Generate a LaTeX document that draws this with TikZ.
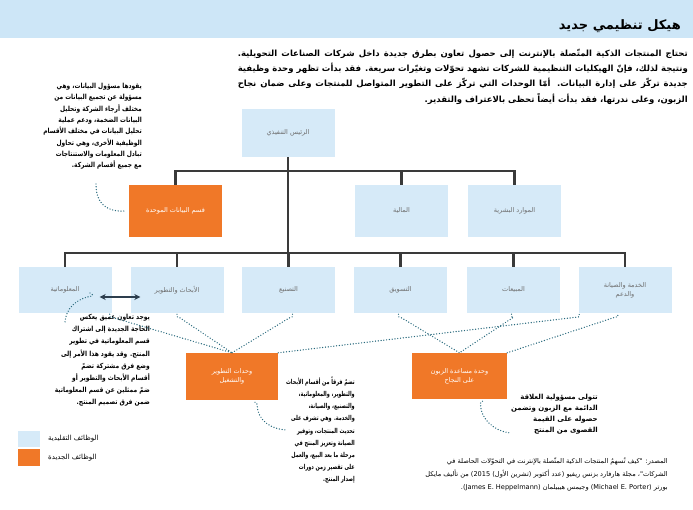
\documentclass[tikz,border=0pt]{standalone}
\usepackage{fontspec}
\usepackage{graphicx}
\TeXXeTstate=1
\newfontfamily\ar[Script=Arabic]{DejaVu Sans}
\usetikzlibrary{arrows.meta}
\definecolor{boxblue}{RGB}{214,234,248}
\definecolor{orangeN}{RGB}{240,120,40}
\definecolor{lineD}{RGB}{58,58,58}
\definecolor{dotT}{RGB}{40,105,125}
\definecolor{labG}{RGB}{110,110,110}
\definecolor{bandB}{RGB}{205,230,247}
\definecolor{arrD}{RGB}{45,62,78}
\newcommand\RL[1]{\beginR #1\endR}
\newcommand\sx{1}
\newcommand\SL[1]{\scalebox{\sx}[1]{\beginR #1\endR}}
\newcommand\JL[1]{\makebox[450pt][s]{\beginR #1\endR}}
\begin{document}
\begin{tikzpicture}[x=1pt,y=-1pt,
 trad/.style={fill=boxblue, minimum width=93pt, minimum height=46pt, inner sep=1pt, text=labG, align=center, font=\ar\fontsize{6.5}{9}\selectfont},
 newf/.style={trad, fill=orangeN, text=white},
 bus/.style={draw=lineD, line width=2.2pt},
 dots/.style={draw=dotT, line width=1.4pt, dash pattern=on 0pt off 2.8pt, line cap=round},
 body/.style={inner sep=0pt, align=right, font=\ar\bfseries\fontsize{7}{10.5}\selectfont}
]
\useasboundingbox (0,0) rectangle (693,509);
\fill[bandB] (0,0) rectangle (693,38);
\node[anchor=base east, inner sep=0pt, font=\ar\bfseries\fontsize{13}{15}\selectfont] (title) at (681,29) {\RL{هيكل تنظيمي جديد}};
\node[body, anchor=north east, font=\ar\bfseries\fontsize{8.5}{15.3}\selectfont] (intro) at (688,49) {%
\JL{تحتاج المنتجات الذكية المتّصلة بالإنترنت إلى حصول تعاون بطرق جديدة داخل شركات الصناعات التحويلية.}\\
\JL{ونتيجة لذلك، فإنّ الهيكليات التنظيمية للشركات تشهد تحوّلات وتغيّرات سريعة. فقد بدأت تظهر وحدة وظيفية}\\
\JL{جديدة تركّز على إدارة البيانات. أمّا الوحدات التي تركّز على التطوير المتواصل للمنتجات وعلى ضمان نجاح}\\
\RL{الزبون، وعلى ندرتها، فقد بدأت أيضاً تحظى بالاعتراف والتقدير.}};

% chart boxes
\node[trad, minimum height=48pt] (ceo) at (288,133) {\RL{الرئيس التنفيذي}};
\node[newf, minimum height=52pt] (data) at (175.5,211) {\RL{قسم البيانات الموحدة}};
\node[trad, minimum height=52pt] (fin) at (401.5,211) {\RL{المالية}};
\node[trad, minimum height=52pt] (hr) at (514.5,211) {\RL{الموارد البشرية}};
\node[trad] (it) at (65,290) {\RL{المعلوماتية}};
\node[trad] (rd) at (177,290) {\RL{الأبحاث والتطوير}};
\node[trad] (mfg) at (288.5,290) {\RL{التصنيع}};
\node[trad] (mkt) at (400.5,290) {\RL{التسويق}};
\node[trad] (sales) at (513.5,290) {\RL{المبيعات}};
\node[trad] (svc) at (625,290) {\RL{الخدمة والصيانة}\\\RL{والدعم}};
\node[newf, minimum width=92pt, minimum height=47pt] (dev) at (232,376.5) {\RL{وحدات التطوير}\\\RL{والتشغيل}};
\node[newf, minimum width=95pt] (cs) at (459.5,376) {\RL{وحدة مساعدة الزبون}\\\RL{على النجاح}};

% hierarchy lines
\coordinate (busT) at (288,171);
\coordinate (busB) at (288,253);
\draw[bus] (ceo.south) -- (busB);
\draw[bus] (data.north) |- (busT) -| (hr.north);
\draw[bus] (fin.north) -- (fin.north |- busT);
\draw[bus] (it.north) |- (busB) -| (svc.north);
\foreach \n in {rd,mfg,mkt,sales} \draw[bus] (\n.north) -- (\n.north |- busB);

% double arrow
\draw[arrD, line width=2pt, {Stealth[length=6pt,width=6pt]}-{Stealth[length=6pt,width=6pt]}] ([shift={(-12,7)}]it.east) -- ([shift={(10,7)}]rd.west);

% text blocks
\node[body, anchor=north east, font=\ar\bfseries\fontsize{7}{11.3}\selectfont\def\sx{0.84}] (ltext) at (142,83) {%
\SL{يقودها مسؤول البيانات، وهي}\\
\SL{مسؤولة عن تجميع البيانات من}\\
\SL{مختلف أرجاء الشركة وتحليل}\\
\SL{البيانات الضخمة، ودعم عملية}\\
\SL{تحليل البيانات في مختلف الأقسام}\\
\SL{الوظيفية الأخرى، وهي تحاول}\\
\SL{تبادل المعلومات والاستنتاجات}\\
\SL{مع جميع أقسام الشركة.}};
\node[body, anchor=north east, font=\ar\bfseries\fontsize{7}{12.2}\selectfont\def\sx{0.85}] (lbtext) at (150,314) {%
\SL{يوجد تعاون عميق يعكس}\\
\SL{الحاجة الجديدة إلى اشتراك}\\
\SL{قسم المعلوماتية في تطوير}\\
\SL{المنتج. وقد يقود هذا الأمر إلى}\\
\SL{وضع فرق مشتركة تضمّ}\\
\SL{أقسام الأبحاث والتطوير أو}\\
\SL{ضمّ ممثلين عن قسم المعلوماتية}\\
\SL{ضمن فرق تصميم المنتج.}};
\node[body, anchor=north east, font=\ar\bfseries\fontsize{6.8}{12.2}\selectfont\def\sx{0.72}] (mtext) at (355,377) {%
\SL{تضمّ فرقاً من أقسام الأبحاث}\\
\SL{والتطوير، والمعلوماتية،}\\
\SL{والتصنيع، والصيانة،}\\
\SL{والخدمة. وهي تشرف على}\\
\SL{تحديث المنتجات، وتوفير}\\
\SL{الصيانة وتعزيز المنتج في}\\
\SL{مرحلة ما بعد البيع، والعمل}\\
\SL{على تقصير زمن دورات}\\
\SL{إصدار المنتج.}};
\node[body, anchor=north east, font=\ar\bfseries\fontsize{7}{11}\selectfont] (rtext) at (598,394) {%
\RL{تتولى مسؤولية العلاقة}\\
\RL{الدائمة مع الزبون وتضمن}\\
\RL{حصوله على القيمة}\\
\RL{القصوى من المنتج}};
\node[inner sep=0pt, align=right, anchor=north east, font=\ar\fontsize{6.6}{13}\selectfont] (src) at (668,458) {%
\RL{المصدر: "كيف تُسهمُ المنتجات الذكية المتّصلة بالإنترنت في التحوّلات الحاصلة في}\\
\RL{الشركات"، مجلة هارفارد بزنس ريفيو (عدد أكتوبر (تشرين الأول) \beginL 2015\endL) من تأليف مايكل}\\
\RL{بورتر \beginL(Michael E. Porter)\endL\ وجيمس هيبيلمان \beginL(James E. Heppelmann)\endL.}};

% legend
\fill[boxblue] (18,431) rectangle (40,447);
\fill[orangeN] (18,449) rectangle (40,466);
\node[anchor=west, inner sep=0pt, font=\ar\fontsize{7}{8}\selectfont] (legTl) at (48,439) {\RL{الوظائف التقليدية}};
\node[anchor=west, inner sep=0pt, font=\ar\fontsize{7}{8}\selectfont] (legNl) at (48,457.5) {\RL{الوظائف الجديدة}};

% dotted connectors
\coordinate (pIt) at ([shift={(0,4)}]it.south east);
\coordinate (pRd) at ([shift={(2,4)}]rd.south);
\coordinate (pMfg) at ([shift={(2,4)}]mfg.south);
\coordinate (pMkt) at ([shift={(0,4)}]mkt.south);
\coordinate (pSales) at ([shift={(0,4)}]sales.south);
\coordinate (pSvcA) at ([shift={(-2,4)}]svc.south west);
\coordinate (pSvcB) at ([shift={(-10,4)}]svc.south);
\draw[dots] ([shift={(-2,-3)}]pIt) .. controls ([shift={(-2,0)}]pIt) .. (pIt) -- (dev.north);
\draw[dots] ([shift={(-2,-3)}]pRd) .. controls ([shift={(-2,0)}]pRd) .. (pRd) -- (dev.north);
\draw[dots] ([shift={(2,-3)}]pMfg) .. controls ([shift={(2,0)}]pMfg) .. (pMfg) -- (dev.north);
\draw[dots] (dev.north east) -- (pSvcA) .. controls ([shift={(3,0)}]pSvcA) .. ([shift={(3,-3)}]pSvcA);
\draw[dots] ([shift={(-2,-3)}]pMkt) .. controls ([shift={(-2,0)}]pMkt) .. (pMkt) -- (cs.north);
\draw[dots] ([shift={(-2,-3)}]pSales) .. controls ([shift={(-2,0)}]pSales) .. (pSales) -- (cs.north);
\draw[dots] (cs.north east) -- (pSvcB) .. controls ([shift={(3,0)}]pSvcB) .. ([shift={(3,-3)}]pSvcB);
\coordinate (cA) at (96,184);
\draw[dots] (cA) .. controls (96,205) and (108,212) .. ([xshift=-4pt]data.west);
\coordinate (cB) at (92,296);
\coordinate (cBe) at (65,322);
\draw[dots] ([shift={(-2,-3)}]cB) .. controls ([shift={(1,-1)}]cB) .. (cB) .. controls (75,299) and (66,309) .. (cBe);
\coordinate (cC) at ([shift={(25,5)}]dev.south);
\coordinate (cCe) at (287,430);
\draw[dots] ([shift={(-2,-3)}]cC) .. controls ([shift={(0,-2)}]cC) .. (cC) .. controls ([shift={(26,20)}]dev.south) and ([shift={(38,29)}]dev.south) .. (cCe);
\coordinate (cD) at ([shift={(21,5)}]cs.south);
\coordinate (cDe) at (510,433);
\draw[dots] ([shift={(2,-3)}]cD) .. controls ([shift={(0,-2)}]cD) .. (cD) .. controls ([shift={(21,20)}]cs.south) and ([shift={(35,32)}]cs.south) .. (cDe);
\end{tikzpicture}
\end{document}
